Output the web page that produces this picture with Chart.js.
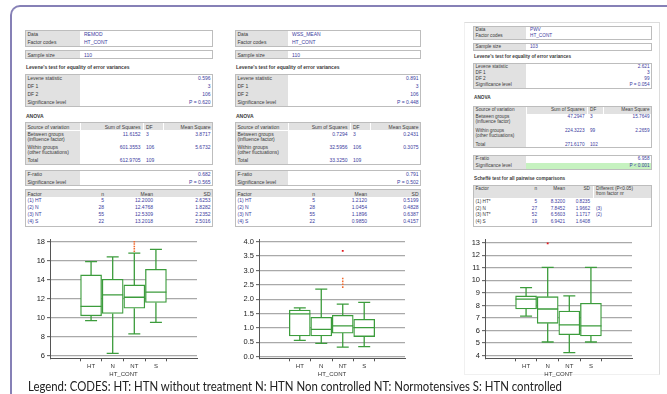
<!DOCTYPE html>
<html>
<head>
<meta charset="utf-8">
<script src="https://cdn.jsdelivr.net/npm/chart.js@4.4.1/dist/chart.umd.min.js"></script>
<style>
html,body{margin:0;padding:0;background:#fff;}
body{width:667px;height:394px;position:relative;overflow:hidden;font-family:"Liberation Sans",Arial,sans-serif;}
#frame{position:absolute;left:10px;top:5px;width:700px;height:450px;border-top:2px solid #8680b6;border-left:2px solid #8680b6;border-top-left-radius:10px;box-sizing:border-box;}
#card3{position:absolute;left:464px;top:22px;width:196px;height:353px;border:1px solid #dcdcdc;border-left-color:#f0f0f0;border-bottom-color:#f0f0f0;box-sizing:border-box;}
.b{position:absolute;box-sizing:border-box;}
.t{position:absolute;white-space:nowrap;line-height:1;}
canvas{position:absolute;}
#legend{position:absolute;left:28px;top:379px;font-family:Lato,"Open Sans",sans-serif;font-size:12.5px;color:#222;white-space:nowrap;transform-origin:0 0;line-height:1.2;}
</style>
</head>
<body>
<div id="frame"></div>
<div id="card3"></div>
<div id="tables"></div>
<canvas id="c1" width="190" height="152" style="left:15px;top:230px;width:190px;height:152px"></canvas>
<canvas id="c2" width="190" height="152" style="left:225px;top:230px;width:190px;height:152px"></canvas>
<canvas id="c3" width="192" height="152" style="left:450px;top:230px;width:192px;height:152px"></canvas>
<div id="legend">Legend: CODES: HT: HTN without treatment N: HTN Non controlled NT: Normotensives S: HTN controlled</div>
<script>
// ================= DATA =================
const categories = ['HT', 'N', 'NT', 'S'];
const axisTitle = 'HT_CONT';

// Panel 1 : REMOD
const remodLow = [9.7, 6.25, 8.3, 9.5];
const remodQ1 = [10.2, 10.45, 11.0, 11.6];
const remodMedian = [11.2, 12.4, 12.15, 12.7];
const remodQ3 = [14.5, 14.05, 13.45, 15.1];
const remodHigh = [15.9, 16.4, 16.8, 17.2];
const remodOutliers = [[], [], [17.0, 17.25, 17.5, 17.75, 18.0], []];
const remodFarOut = [[], [], [], []];
const remodTicks = [6, 8, 10, 12, 14, 16, 18];
const remodRange = [5.726, 18.284];

// Panel 2 : WSS_MEAN
const wssLow = [0.57, 0.46, 0.33, 0.35];
const wssQ1 = [0.72, 0.72, 0.82, 0.70];
const wssMedian = [1.49, 0.95, 1.07, 1.01];
const wssQ3 = [1.62, 1.37, 1.44, 1.30];
const wssHigh = [1.70, 2.35, 1.83, 1.89];
const wssOutliers = [[], [], [2.42, 2.52, 2.62, 2.72], []];
const wssFarOut = [[], [], [3.68], []];
const wssTicks = [0, 0.5, 1, 1.5, 2, 2.5, 3, 3.5, 4];
const wssRange = [-0.056, 4.094];

// Panel 3 : PWV
const pwvLow = [7.16, 5.09, 4.24, 5.09];
const pwvQ1 = [7.72, 6.58, 5.67, 5.57];
const pwvMedian = [8.5, 7.72, 6.45, 6.37];
const pwvQ3 = [8.76, 8.7, 7.56, 8.18];
const pwvHigh = [9.42, 11.04, 8.76, 11.04];
const pwvOutliers = [[], [], [], []];
const pwvFarOut = [[], [12.95], [], []];
const pwvTicks = [4, 5, 6, 7, 8, 9, 10, 11, 12, 13];
const pwvRange = [3.793, 13.295];

// Table texts
const infoLabels = ['Data', 'Factor codes'];
const sampleLabel = 'Sample size';
const leveneTitle = "Levene's test for equality of error variances";
const leveneLabels = ['Levene statistic', 'DF 1', 'DF 2', 'Significance level'];
const anovaTitle = 'ANOVA';
const anovaHeader = ['Source of variation', 'Sum of Squares', 'DF', 'Mean Square'];
const anovaRowLabels = [['Between groups', '(influence factor)'], ['Within groups', '(other fluctuations)'], ['Total']];
const fLabels = ['F-ratio', 'Significance level'];
const factorHeader = ['Factor', 'n', 'Mean', 'SD'];
const factorLabels = ['(1) HT', '(2) N', '(3) NT', '(4) S'];
const scheffeTitle = 'Scheffé test for all pairwise comparisons';
const scheffeHeader = ['Factor', 'n', 'Mean', 'SD', 'Different (P<0.05)', 'from factor nr'];
const scheffeLabels = ['(1) HT*', '(2) N', '(3) NT*', '(4) S'];

const remodInfo = ['REMOD', 'HT_CONT', '110'];
const remodLevene = ['0.596', '3', '106', 'P = 0.620'];
const remodSS = ['11.6152', '601.3553', '612.9705'];
const remodDF = ['3', '106', '109'];
const remodMS = ['3.8717', '5.6732', ''];
const remodF = ['0.682', 'P = 0.565'];
const remodN = ['5', '28', '55', '22'];
const remodMean = ['12.2000', '12.4768', '12.5309', '13.2018'];
const remodSD = ['2.6253', '1.8282', '2.2352', '2.5016'];

const wssInfo = ['WSS_MEAN', 'HT_CONT', '110'];
const wssLevene = ['0.891', '3', '106', 'P = 0.448'];
const wssSS = ['0.7294', '32.5956', '33.3250'];
const wssDF = ['3', '106', '109'];
const wssMS = ['0.2431', '0.3075', ''];
const wssF = ['0.791', 'P = 0.502'];
const wssN = ['5', '28', '55', '22'];
const wssMean = ['1.2120', '1.0454', '1.1896', '0.9850'];
const wssSD = ['0.5199', '0.4828', '0.6387', '0.4157'];

const pwvInfo = ['PWV', 'HT_CONT', '103'];
const pwvLevene = ['2.621', '3', '99', 'P = 0.054'];
const pwvSS = ['47.2947', '224.3223', '271.6170'];
const pwvDF = ['3', '99', '102'];
const pwvMS = ['15.7649', '2.2659', ''];
const pwvF = ['6.958', 'P < 0.001'];
const pwvN = ['5', '27', '52', '19'];
const pwvMean = ['8.3200', '7.8452', '6.5603', '6.9421'];
const pwvSD = ['0.8235', '1.9662', '1.1717', '1.6408'];
const pwvDiff = ['', '(3)', '(2)', ''];

// ================= STYLE / LAYOUT =================
const GREEN = '#3c9c3c';
const GRAY = '#e1e1e1', BORDER = '#bdbdbd', BLUE = '#3c3ca0', DARK = '#3a3a3a', HILITE = '#c6f2c0';
const root = document.getElementById('tables');

function rect(x, y, w, h, bg, border) {
  const d = document.createElement('div'); d.className = 'b';
  Object.assign(d.style, {left: x + 'px', top: y + 'px', width: w + 'px', height: h + 'px',
    background: bg || 'transparent', border: border ? '1px solid ' + border : 'none'});
  root.appendChild(d); return d;
}
function text(x, y, s, o) {
  o = o || {};
  const d = document.createElement('div'); d.className = 't'; d.textContent = s;
  const al = o.align || 'left';
  const tx = al === 'right' ? '-100%' : (al === 'center' ? '-50%' : '0');
  Object.assign(d.style, {left: x + 'px', top: y + 'px', fontSize: o.size + 'px', color: o.color || DARK,
    fontWeight: o.bold ? 'bold' : 'normal', transform: 'translate(' + tx + ',-50%)'});
  root.appendChild(d);
}

function drawStats(L, Y, d) {
  const W = L.R - L.X, pad = 2.5;
  const lab = (x, y, s, o) => text(x, y, s, Object.assign({size: L.fs}, o || {}));
  const kvBox = (top, h) => { rect(L.X, top, W, h, '#fff', BORDER); rect(L.X + 1, top + 1, L.C - L.X - 1, h - 2, GRAY); };
  // info
  kvBox(Y.data[0], Y.data[1]);
  infoLabels.forEach((s, i) => { lab(L.X + pad, Y.dataRows[i], s); lab(L.C + 4, Y.dataRows[i], d.info[i], {color: BLUE}); });
  kvBox(Y.sample[0], Y.sample[1]);
  lab(L.X + pad, Y.sample[0] + Y.sample[1] / 2, sampleLabel);
  lab(L.C + 4, Y.sample[0] + Y.sample[1] / 2, d.info[2], {color: BLUE});
  // Levene
  lab(L.X + 1, Y.levTitle, leveneTitle, {bold: true});
  kvBox(Y.lev[0], Y.lev[1]);
  leveneLabels.forEach((s, i) => { lab(L.X + pad, Y.levRows[i], s); lab(L.R - pad, Y.levRows[i], d.levene[i], {color: BLUE, align: 'right'}); });
  // ANOVA
  lab(L.X + 1, Y.anovaTitle, anovaTitle, {bold: true});
  const at = Y.anova[0], ah = Y.anova[1], hh = Y.anovaHeaderH;
  rect(L.X, at, W, ah, '#fff', BORDER);
  rect(L.X + 1, at + 1, L.C - L.X - 1.5, hh, GRAY);
  rect(L.C + 0.5, at + 1, L.ssR - L.C - 1, hh, GRAY);
  rect(L.ssR + 0.5, at + 1, L.dfR - L.ssR - 1, hh, GRAY);
  rect(L.dfR + 0.5, at + 1, L.R - L.dfR - 1.5, hh, GRAY);
  rect(L.X + 1, at + 1.5 + hh, L.C - L.X - 1.5, ah - hh - 2.5, GRAY);
  const hy = at + 1 + hh / 2;
  lab(L.X + pad, hy, anovaHeader[0]);
  lab(L.ssR - pad, hy, anovaHeader[1], {align: 'right'});
  lab(L.ssR + 3, hy, anovaHeader[2]);
  lab(L.R - pad, hy, anovaHeader[3], {align: 'right'});
  anovaRowLabels.forEach((lines, i) => {
    const y0 = Y.anovaRows[i];
    lines.forEach((s, j) => lab(L.X + pad, y0 + j * Y.lineGap, s));
    lab(L.ssR - pad, y0, d.ss[i], {color: BLUE, align: 'right'});
    lab(L.ssR + 3, y0, d.df[i], {color: BLUE});
    lab(L.R - pad, y0, d.ms[i], {color: BLUE, align: 'right'});
  });
  // F
  kvBox(Y.F[0], Y.F[1]);
  if (d.highlight) rect(L.C, Y.F[0] + Y.F[1] / 2, L.R - L.C - 1, Y.F[1] / 2 - 1, HILITE);
  fLabels.forEach((s, i) => { lab(L.X + pad, Y.FRows[i], s); lab(L.R - pad, Y.FRows[i], d.f[i], {color: BLUE, align: 'right'}); });
  // factor table
  if (!d.scheffe) {
    rect(L.X, Y.fac[0], W, Y.fac[1], '#fff', BORDER);
    rect(L.X + 1, Y.fac[0] + 1, W - 2, Y.facHeaderH, GRAY);
    const fy = Y.fac[0] + 1 + Y.facHeaderH / 2;
    lab(L.X + pad, fy, factorHeader[0]);
    lab(L.nR, fy, factorHeader[1], {align: 'right'});
    lab(L.meanR, fy, factorHeader[2], {align: 'right'});
    lab(L.R - pad, fy, factorHeader[3], {align: 'right'});
    factorLabels.forEach((s, i) => {
      const y = Y.facRows[i];
      lab(L.X + pad, y, s, {color: BLUE});
      lab(L.nR, y, d.n[i], {color: BLUE, align: 'right'});
      lab(L.meanR, y, d.mean[i], {color: BLUE, align: 'right'});
      lab(L.R - pad, y, d.sd[i], {color: BLUE, align: 'right'});
    });
  } else {
    lab(L.X + 1, Y.schTitle, scheffeTitle, {bold: true});
    rect(L.X, Y.sch[0], W, Y.sch[1], '#fff', BORDER);
    rect(L.X + 1, Y.sch[0] + 1, L.divX - L.X - 1.5, Y.schHeaderH, GRAY);
    rect(L.divX + 0.5, Y.sch[0] + 1, L.R - L.divX - 1.5, Y.schHeaderH, GRAY);
    const hy1 = Y.schHeaderRows[0], hy2 = Y.schHeaderRows[1];
    lab(L.X + pad, hy1, scheffeHeader[0]);
    lab(L.nR, hy1, scheffeHeader[1], {align: 'right'});
    lab(L.meanR, hy1, scheffeHeader[2], {align: 'right'});
    lab(L.sdR, hy1, scheffeHeader[3], {align: 'right'});
    lab(L.divX + 3, hy1, scheffeHeader[4]);
    lab(L.divX + 3, hy2, scheffeHeader[5]);
    scheffeLabels.forEach((s, i) => {
      const y = Y.schRows[i];
      lab(L.X + pad, y, s);
      lab(L.nR, y, d.n[i], {color: BLUE, align: 'right'});
      lab(L.meanR, y, d.mean[i], {color: BLUE, align: 'right'});
      lab(L.sdR, y, d.sd[i], {color: BLUE, align: 'right'});
      lab(L.divX + 3, y, d.diff[i], {color: BLUE});
    });
  }
}

const Y12 = {data: [30, 17], dataRows: [34.3, 42.3], sample: [50, 9], levTitle: 67, lev: [74, 33],
  levRows: [78.3, 86.3, 94.3, 102.3], anovaTitle: 116, anova: [122, 43], anovaHeaderH: 7,
  anovaRows: [133.5, 147, 159.8], lineGap: 5, F: [170, 16], FRows: [174.2, 181.6],
  fac: [189, 38], facHeaderH: 7, facRows: [200, 207, 214, 221]};
const Y3 = {data: [26, 14], dataRows: [29.8, 35.8], sample: [43, 8], levTitle: 57, lev: [63, 26],
  levRows: [66.5, 72.5, 78.5, 84.5], anovaTitle: 98, anova: [106, 42], anovaHeaderH: 6.5,
  anovaRows: [116.5, 130.5, 144.5], lineGap: 5.3, F: [155, 15], FRows: [158.8, 166],
  schTitle: 179, sch: [185, 42], schHeaderH: 12, schHeaderRows: [188.8, 194], schRows: [202, 208.5, 215, 221.5]};

drawStats({X: 25, R: 213, C: 80, ssR: 143, dfR: 163, nR: 104, meanR: 153, fs: 5}, Y12,
  {info: remodInfo, levene: remodLevene, ss: remodSS, df: remodDF, ms: remodMS, f: remodF, n: remodN, mean: remodMean, sd: remodSD});
drawStats({X: 235, R: 421, C: 288, ssR: 350, dfR: 370, nR: 315, meanR: 367, fs: 5}, Y12,
  {info: wssInfo, levene: wssLevene, ss: wssSS, df: wssDF, ms: wssMS, f: wssF, n: wssN, mean: wssMean, sd: wssSD});
drawStats({X: 473, R: 652, C: 526, ssR: 587, dfR: 603, nR: 537, meanR: 565, sdR: 590, divX: 593, fs: 4.7}, Y3,
  {info: pwvInfo, levene: pwvLevene, ss: pwvSS, df: pwvDF, ms: pwvMS, f: pwvF, n: pwvN, mean: pwvMean, sd: pwvSD,
   diff: pwvDiff, highlight: true, scheffe: true});

// ================= CHARTS =================
Chart.defaults.font.family = '"Liberation Sans", Arial, sans-serif';

function boxChart(id, g, d) {
  const pts = arr => arr.flatMap((list, i) => list.map(v => ({x: i + 1, y: v})));
  const whiskers = {
    id: 'whiskers_' + id,
    afterDatasetsDraw(chart) {
      const meta = chart.getDatasetMeta(0), ys = chart.scales.y, ctx = chart.ctx;
      ctx.save();
      ctx.strokeStyle = GREEN; ctx.lineWidth = 1.3;
      meta.data.forEach((bar, i) => {
        const x = bar.x, hw = bar.width / 2, cw = 6;
        const yLo = ys.getPixelForValue(d.low[i]), yHi = ys.getPixelForValue(d.high[i]);
        const yQ1 = ys.getPixelForValue(d.q1[i]), yQ3 = ys.getPixelForValue(d.q3[i]);
        const yMed = ys.getPixelForValue(d.med[i]);
        ctx.beginPath();
        ctx.moveTo(x, yQ3); ctx.lineTo(x, yHi);
        ctx.moveTo(x - cw, yHi); ctx.lineTo(x + cw, yHi);
        ctx.moveTo(x, yQ1); ctx.lineTo(x, yLo);
        ctx.moveTo(x - cw, yLo); ctx.lineTo(x + cw, yLo);
        ctx.moveTo(x - hw, yMed); ctx.lineTo(x + hw, yMed);
        ctx.stroke();
      });
      ctx.restore();
    }
  };
  const canvas = document.getElementById(id);
  new Chart(canvas, {
    type: 'bar',
    data: {
      datasets: [
        {type: 'bar', data: categories.map((c, i) => ({x: i + 1, y: [d.q1[i], d.q3[i]]})),
         backgroundColor: '#ffffff', borderColor: GREEN, borderWidth: 1.3, borderSkipped: false, barThickness: 21},
        {type: 'scatter', data: pts(d.out), pointStyle: 'rect', pointRadius: 1.1, backgroundColor: '#f26a2e', borderWidth: 0},
        {type: 'scatter', data: pts(d.far), pointStyle: 'rect', pointRadius: 1.3, backgroundColor: '#e3161b', borderWidth: 0}
      ]
    },
    options: {
      responsive: false, animation: false, devicePixelRatio: 1, events: [],
      layout: {padding: {left: 0, top: g.plotTop - g.top, right: g.left + g.width - g.plotRight, bottom: 0}},
      plugins: {legend: {display: false}, tooltip: {enabled: false}},
      scales: {
        x: {
          type: 'linear', min: -0.05, max: 5.05,
          afterBuildTicks: s => { s.ticks = categories.map((c, i) => ({value: i + 1})); },
          afterFit: s => { s.height = g.top + g.height - g.plotBottom; },
          ticks: {autoSkip: false, maxRotation: 0, font: {size: 6}, color: '#333', padding: 1,
                  callback: v => categories[v - 1] || ''},
          grid: {display: true, drawOnChartArea: false, drawTicks: true, tickLength: 3, tickColor: '#555'},
          border: {display: true, color: '#555', width: 1},
          title: {display: true, text: axisTitle, font: {size: 6}, color: '#333', padding: {top: 0, bottom: 4}}
        },
        y: {
          type: 'linear', min: d.range[0], max: d.range[1],
          afterBuildTicks: s => { s.ticks = d.ticks.map(v => ({value: v})); },
          afterFit: s => { s.width = g.axisX - g.left; },
          ticks: {font: {size: 7.5}, color: '#222', padding: 2, callback: v => d.fmt(v)},
          grid: {color: '#a9a9a9', lineWidth: 1.3, drawTicks: true, tickLength: 3, tickColor: '#555', tickWidth: 1},
          border: {display: true, color: '#555', width: 1}
        }
      }
    },
    plugins: [whiskers]
  });
}

boxChart('c1', {left: 15, top: 230, width: 190, height: 152, axisX: 50, plotRight: 197, plotTop: 239, plotBottom: 358.3},
  {low: remodLow, q1: remodQ1, med: remodMedian, q3: remodQ3, high: remodHigh, out: remodOutliers, far: remodFarOut,
   ticks: remodTicks, range: remodRange, fmt: v => String(v)});
boxChart('c2', {left: 225, top: 230, width: 190, height: 152, axisX: 259, plotRight: 405, plotTop: 239, plotBottom: 358.3},
  {low: wssLow, q1: wssQ1, med: wssMedian, q3: wssQ3, high: wssHigh, out: wssOutliers, far: wssFarOut,
   ticks: wssTicks, range: wssRange, fmt: v => v.toFixed(1)});
boxChart('c3', {left: 450, top: 230, width: 192, height: 152, axisX: 485, plotRight: 632, plotTop: 239, plotBottom: 358.3},
  {low: pwvLow, q1: pwvQ1, med: pwvMedian, q3: pwvQ3, high: pwvHigh, out: pwvOutliers, far: pwvFarOut,
   ticks: pwvTicks, range: pwvRange, fmt: v => String(v)});

// fit legend line to its width in the reference
const lg = document.getElementById('legend');
const lw = lg.getBoundingClientRect().width;
lg.style.transform = 'scaleX(' + (534 / lw) + ')';
</script>
</body>
</html>
